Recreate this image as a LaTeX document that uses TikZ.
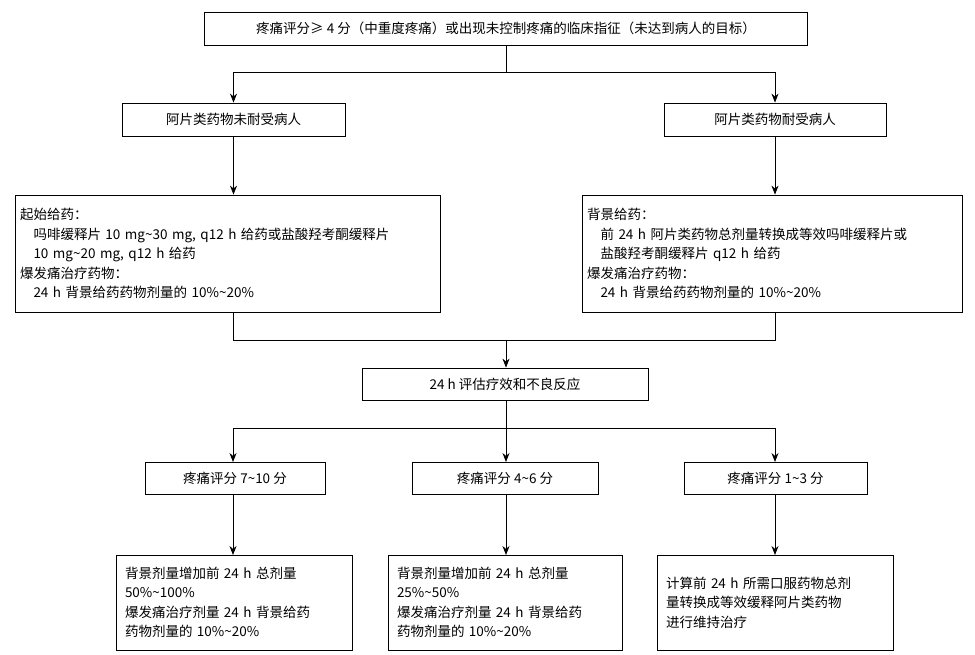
\documentclass[tikz,border=0pt]{standalone}
\usepackage{fontspec}
\setmainfont{Noto Sans CJK SC}
\usetikzlibrary{arrows.meta}
\begin{document}
\begin{tikzpicture}[x=1pt,y=-1pt,
  box/.style={draw,line width=0.8pt,inner sep=0pt,font=\fontsize{13.5}{19.5}\selectfont},
  arr/.style={-{Stealth[length=9pt,width=7pt]},line width=0.8pt},
  ln/.style={line width=0.8pt}]
\useasboundingbox (0,0) rectangle (975,654);
\fill[white] (0,0) rectangle (975,654);
% boxes
\node[box,minimum width=603pt,minimum height=33pt] (top) at (506,28.5) {疼痛评分≥ 4 分（中重度疼痛）或出现未控制疼痛的临床指征（未达到病人的目标）};
\node[box,minimum width=223pt,minimum height=33pt] (a1) at (233.5,119.5) {阿片类药物未耐受病人};
\node[box,minimum width=222pt,minimum height=33pt] (b1) at (775,119.5) {阿片类药物耐受病人};
\node[box,minimum width=425pt,minimum height=117pt,align=left,text width=415pt] (a2) at (227.5,253.5) {起始给药：\\
\hspace*{1em}吗啡缓释片 10 mg\textasciitilde 30 mg, q12 h 给药或盐酸羟考酮缓释片\\
\hspace*{1em}10 mg\textasciitilde 20 mg, q12 h 给药\\
爆发痛治疗药物：\\
\hspace*{1em}24 h 背景给药药物剂量的 10\%\textasciitilde 20\%};
\node[box,minimum width=380pt,minimum height=117pt,align=left,text width=370pt] (b2) at (772,253.5) {背景给药：\\
\hspace*{1em}前 24 h 阿片类药物总剂量转换成等效吗啡缓释片或\\
\hspace*{1em}盐酸羟考酮缓释片 q12 h 给药\\
爆发痛治疗药物：\\
\hspace*{1em}24 h 背景给药药物剂量的 10\%\textasciitilde 20\%};
\node[box,minimum width=286pt,minimum height=32pt] (ev) at (505,384) {24 h 评估疗效和不良反应};
\node[box,minimum width=180pt,minimum height=32pt] (c1) at (235,478) {疼痛评分 7\textasciitilde 10 分};
\node[box,minimum width=186pt,minimum height=32pt] (c2) at (505,478) {疼痛评分 4\textasciitilde 6 分};
\node[box,minimum width=183pt,minimum height=32pt] (c3) at (775.5,478) {疼痛评分 1\textasciitilde 3 分};
\node[box,minimum width=236pt,minimum height=95pt,align=left,text width=218pt] (d1) at (234,602.5) {背景剂量增加前 24 h 总剂量\\50\%\textasciitilde 100\%\\爆发痛治疗剂量 24 h 背景给药\\药物剂量的 10\%\textasciitilde 20\%};
\node[box,minimum width=234pt,minimum height=95pt,align=left,text width=216pt] (d2) at (505,602.5) {背景剂量增加前 24 h 总剂量\\25\%\textasciitilde 50\%\\爆发痛治疗剂量 24 h 背景给药\\药物剂量的 10\%\textasciitilde 20\%};
\node[box,minimum width=236pt,minimum height=95pt,align=left,text width=218pt] (d3) at (775,602.5) {计算前 24 h 所需口服药物总剂\\量转换成等效缓释阿片类药物\\进行维持治疗\\[1.4em]};
% connectors
\coordinate (j1) at (506,72);
\draw[ln] (top.south) -- (j1);
\draw[arr] (j1) -| (a1.north);
\draw[arr] (j1) -| (b1.north);
\draw[arr] (a1.south) -- (a1.south |- a2.north);
\draw[arr] (b1.south) -- (b1.south |- a2.north);
\coordinate (j2) at (506,340);
\draw[ln] (a1.south |- a2.south) |- (j2);
\draw[ln] (b1.south |- b2.south) |- (j2);
\draw[arr] (j2) -- (ev.north -| j2);
\coordinate (j3) at (506,428);
\draw[ln] (ev.south -| j3) -- (j3);
\draw[arr] (j3) -| (233,462);
\draw[arr] (j3) -- (506,462);
\draw[arr] (j3) -| (775,462);
\draw[arr] (233,494) -- (233,555);
\draw[arr] (506,494) -- (506,555);
\draw[arr] (775,494) -- (775,555);
\end{tikzpicture}
\end{document}
